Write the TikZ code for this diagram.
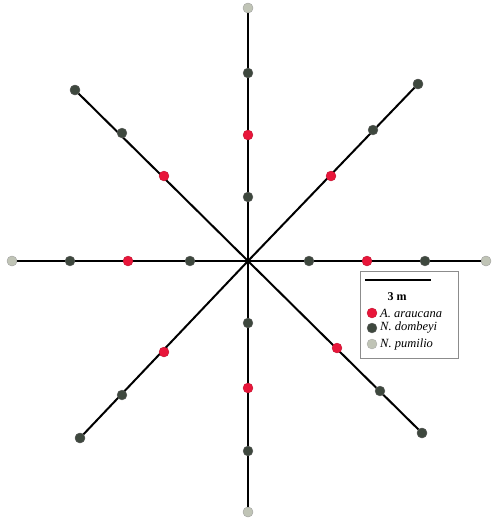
\documentclass[tikz,border=0pt]{standalone}
\usepackage{fontspec}
\setmainfont{Liberation Serif}
\definecolor{araucana}{RGB}{232,22,58}
\definecolor{dombeyi}{RGB}{62,72,62}
\definecolor{pumilio}{RGB}{192,196,182}
\tikzset{
  transect/.style={line width=2pt, black},
  tree/.style={circle, inner sep=0pt, minimum size=10pt, draw=black!60, line width=0.3pt},
  ara/.style={tree, fill=araucana, draw=araucana!80!black},
  dom/.style={tree, fill=dombeyi},
  pum/.style={tree, fill=pumilio, draw=black!35},
  legtext/.style={font=\fontsize{12.5}{14}\selectfont\itshape, anchor=west, inner sep=0pt}
}
\begin{document}
\begin{tikzpicture}[x=1pt, y=-1pt]
  \useasboundingbox[fill=white] (0,0) rectangle (493,520);
  % Centro
  \coordinate (c) at (248,261);
  % Extremos de los transectos
  \node[pum] (n8) at (248,8) {};
  \node[pum] (s8) at (248,512) {};
  \node[pum] (w8) at (12,261) {};
  \node[pum] (e8) at (486,261) {};
  \node[dom] (nw6) at (75,90) {};
  \node[dom] (ne6) at (418,84) {};
  \node[dom] (sw6) at (80,438) {};
  \node[dom] (se6) at (422,433) {};
  % Transectos
  \draw[transect] (c) -- (n8.center);
  \draw[transect] (c) -- (s8.center);
  \draw[transect] (c) -- (w8.center);
  \draw[transect] (c) -- (e8.center);
  \draw[transect] (c) -- (nw6.center);
  \draw[transect] (c) -- (ne6.center);
  \draw[transect] (c) -- (sw6.center);
  \draw[transect] (c) -- (se6.center);
  % Redibujar extremos encima
  \node[pum] at (n8) {};
  \node[pum] at (s8) {};
  \node[pum] at (w8) {};
  \node[pum] at (e8) {};
  \node[dom] at (nw6) {};
  \node[dom] at (ne6) {};
  \node[dom] at (sw6) {};
  \node[dom] at (se6) {};
  % Norte
  \node[dom] (n6) at (248,73) {};
  \node[ara] (n4) at (248,135) {};
  \node[dom] (n2) at (248,197) {};
  % Sur
  \node[dom] (s2) at (248,323) {};
  \node[ara] (s4) at (248,388) {};
  \node[dom] (s6) at (248,451) {};
  % Oeste
  \node[dom] (w6) at (70,261) {};
  \node[ara] (w4) at (128,261) {};
  \node[dom] (w2) at (190,261) {};
  % Este
  \node[dom] (e2) at (309,261) {};
  \node[ara] (e4) at (367,261) {};
  \node[dom] (e6) at (425,261) {};
  % Diagonales
  \node[ara] (nw2) at (164,176) {};
  \node[dom] (nw4) at (122,133) {};
  \node[ara] (ne2) at (331,176) {};
  \node[dom] (ne4) at (373,130) {};
  \node[ara] (sw2) at (164,352) {};
  \node[dom] (sw4) at (122,395) {};
  \node[ara] (se2) at (337,348) {};
  \node[dom] (se4) at (380,391) {};
  % Leyenda
  \draw[black!45, fill=white, line width=0.6pt] (360,271) rectangle (458,358);
  \coordinate (bar0) at (365,280);
  \coordinate (bar1) at (431,280);
  \draw[line width=1.5pt] (bar0) -- (bar1);
  \node[font=\fontsize{12}{14}\selectfont\bfseries] (scale) at (397,297) {3 m};
  \node[ara] (la) at (372,313) {};
  \node[legtext] at (380,313) {A. araucana};
  \node[dom] (ld) at (372,328) {};
  \node[legtext] at (380,328) {N. dombeyi};
  \node[pum] (lp) at (372,344) {};
  \node[legtext] at (380,344) {N. pumilio};
\end{tikzpicture}
\end{document}
